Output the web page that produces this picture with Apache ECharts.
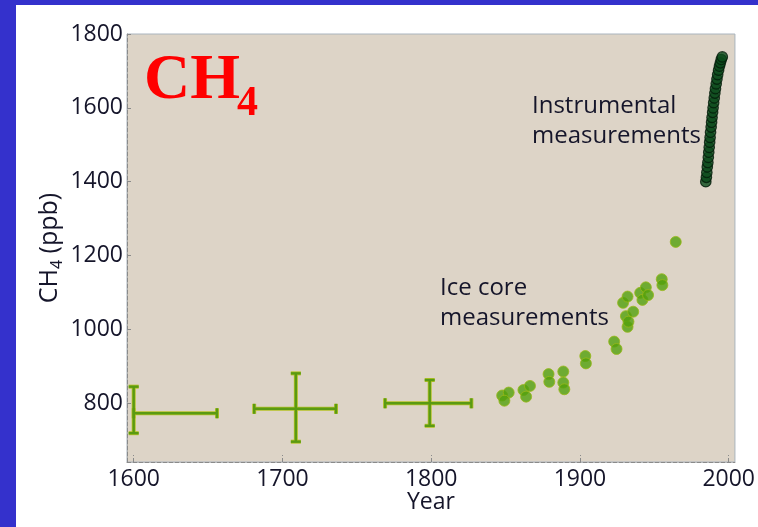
<!DOCTYPE html>
<html>
<head>
<meta charset="utf-8">
<script src="https://cdn.jsdelivr.net/npm/echarts@6/dist/echarts.min.js"></script>
<style>
html,body{margin:0;padding:0;background:#3431cc;width:758px;height:527px;overflow:hidden;}
#c{position:absolute;left:16px;top:5px;width:742px;height:522px;background:#ffffff;}
</style>
</head>
<body>
<div id="c"></div>
<script>
// ---- data ----
const xTickValues = [1600, 1700, 1800, 1900, 2000];
const yTickValues = [800, 1000, 1200, 1400, 1600, 1800];

// early estimates with error bars
const errYears  = [1600, 1709, 1799];
const errValues = [773, 785, 800];
const errXLow   = [1600, 1681, 1769];
const errXHigh  = [1656, 1736, 1827];
const errYLow   = [719, 696, 739];
const errYHigh  = [845, 881, 863];

// ice core measurements
const iceYears  = [1847.7, 1852.1, 1849.2, 1862.0, 1866.4, 1863.8, 1878.9, 1879.4, 1888.8, 1888.8, 1889.5,
                   1903.6, 1904.0, 1923.0, 1924.6, 1929.0, 1932.0, 1930.9, 1935.8, 1932.0, 1932.6,
                   1940.5, 1944.3, 1942.0, 1945.8, 1955.0, 1955.4, 1964.4];
const iceValues = [821, 829, 807, 836, 847, 818, 879, 858, 886, 856, 838,
                   928, 908, 967, 947, 1072, 1089, 1036, 1048, 1007, 1021,
                   1099, 1114, 1080, 1093, 1136, 1120, 1237];

// instrumental measurements
const instYears  = [1984.6, 1985.0, 1985.3, 1985.6, 1986.0, 1986.3, 1986.6, 1986.9, 1987.2, 1987.5,
                    1987.8, 1988.2, 1988.5, 1988.8, 1989.2, 1989.5, 1989.9, 1990.3, 1990.7, 1991.1,
                    1991.6, 1992.1, 1992.6, 1993.2, 1993.8, 1994.4, 1995.0, 1995.7];
const instValues = [1400, 1412, 1425, 1440, 1452, 1466, 1480, 1493, 1507, 1520,
                    1534, 1548, 1561, 1574, 1588, 1600, 1614, 1627, 1640, 1652,
                    1665, 1678, 1690, 1702, 1713, 1722, 1731, 1738];

const FONT = '"Open Sans", sans-serif';
const TXT = '#15152a';

const errData = errYears.map((y, i) => [y, errValues[i], errXLow[i], errXHigh[i], errYLow[i], errYHigh[i]]);
const iceData = iceYears.map((y, i) => [y, iceValues[i]]);
const instData = instYears.map((y, i) => [y, instValues[i]]);

function renderErr(params, api) {
  const xc = api.value(0), yc = api.value(1);
  const xl = api.value(2), xh = api.value(3), yl = api.value(4), yh = api.value(5);
  const pL = api.coord([xl, yc]), pR = api.coord([xh, yc]);
  const pT = api.coord([xc, yh]), pB = api.coord([xc, yl]);
  const cap = 5;
  const segs = [
    [pL, pR], [pT, pB],
    [[pL[0], pL[1] - cap], [pL[0], pL[1] + cap]],
    [[pR[0], pR[1] - cap], [pR[0], pR[1] + cap]],
    [[pT[0] - cap, pT[1]], [pT[0] + cap, pT[1]]],
    [[pB[0] - cap, pB[1]], [pB[0] + cap, pB[1]]]
  ];
  const children = [];
  segs.forEach(s => children.push({type: 'line', shape: {x1: s[0][0], y1: s[0][1], x2: s[1][0], y2: s[1][1]},
    style: {stroke: '#b4c226', lineWidth: 4}}));
  segs.forEach(s => children.push({type: 'line', shape: {x1: s[0][0], y1: s[0][1], x2: s[1][0], y2: s[1][1]},
    style: {stroke: '#5a9a12', lineWidth: 2.4}}));
  return {type: 'group', children: children};
}

const plainNum = v => String(Math.round(v));

const chart = echarts.init(document.getElementById('c'), null, {renderer: 'canvas'});
chart.setOption({
  animation: false,
  grid: {left: 111, top: 29, right: 22, bottom: 65, show: true, backgroundColor: '#ddd4c7',
         borderColor: '#aab4be', borderWidth: 1},
  xAxis: {
    type: 'value', min: 1595.5, max: 2004.2,
    name: 'Year', nameLocation: 'middle', nameGap: 29, nameMoveOverlap: false,
    nameTextStyle: {fontFamily: FONT, fontSize: 23, color: TXT},
    axisLine: {show: true, lineStyle: {color: '#8a8a8a', type: 'dashed', width: 1}},
    axisTick: {show: true, inside: true, length: 7, customValues: xTickValues, lineStyle: {color: '#8a8a8a', type: 'dashed'}},
    axisLabel: {customValues: xTickValues, formatter: plainNum, fontFamily: FONT, fontSize: 23, color: TXT, margin: 6},
    splitLine: {show: false}
  },
  yAxis: {
    type: 'value', min: 641, max: 1800,
    name: '{a|CH}{s|4}{a| (ppb)}', nameLocation: 'middle', nameGap: 62, nameRotate: 90, nameMoveOverlap: false,
    nameTextStyle: {rich: {
      a: {fontFamily: FONT, fontSize: 25, color: TXT, lineHeight: 30, verticalAlign: 'middle'},
      s: {fontFamily: FONT, fontSize: 16, color: TXT, lineHeight: 30, verticalAlign: 'bottom'}
    }},
    axisLine: {show: true, lineStyle: {color: '#8a8a8a', type: 'dashed', width: 1}},
    axisTick: {show: true, inside: true, length: 6, customValues: yTickValues, lineStyle: {color: '#8a8a8a', type: 'dashed'}},
    axisLabel: {customValues: yTickValues, formatter: plainNum, fontFamily: FONT, fontSize: 23, color: TXT, margin: 4},
    splitLine: {show: false}
  },
  series: [
    {type: 'custom', renderItem: renderErr, data: errData, encode: {x: [0, 2, 3], y: [1, 4, 5]}, z: 3},
    {type: 'scatter', data: iceData, symbolSize: 11,
     itemStyle: {color: '#52a00c', borderColor: '#98b818', borderWidth: 1}, z: 4},
    {type: 'scatter', data: instData, symbolSize: 10.5,
     itemStyle: {color: '#0a4a1a', borderColor: '#041c0a', borderWidth: 1.2}, z: 5}
  ],
  graphic: [
    {type: 'text', left: 128, top: 44, z: 10,
     style: {text: 'CH', fontFamily: '"Liberation Serif", serif', fontWeight: 'bold', fontSize: 64, fill: '#ff0000'}},
    {type: 'text', left: 221, top: 78, z: 10,
     style: {text: '4', fontFamily: '"Liberation Serif", serif', fontWeight: 'bold', fontSize: 42, fill: '#ff0000'}},
    {type: 'text', left: 516, top: 86, z: 10,
     style: {text: 'Instrumental\nmeasurements', fontFamily: FONT, fontSize: 24, lineHeight: 30, fill: TXT}},
    {type: 'text', left: 424, top: 268, z: 10,
     style: {text: 'Ice core\nmeasurements', fontFamily: FONT, fontSize: 24, lineHeight: 30, fill: TXT}}
  ]
});
</script>
</body>
</html>
